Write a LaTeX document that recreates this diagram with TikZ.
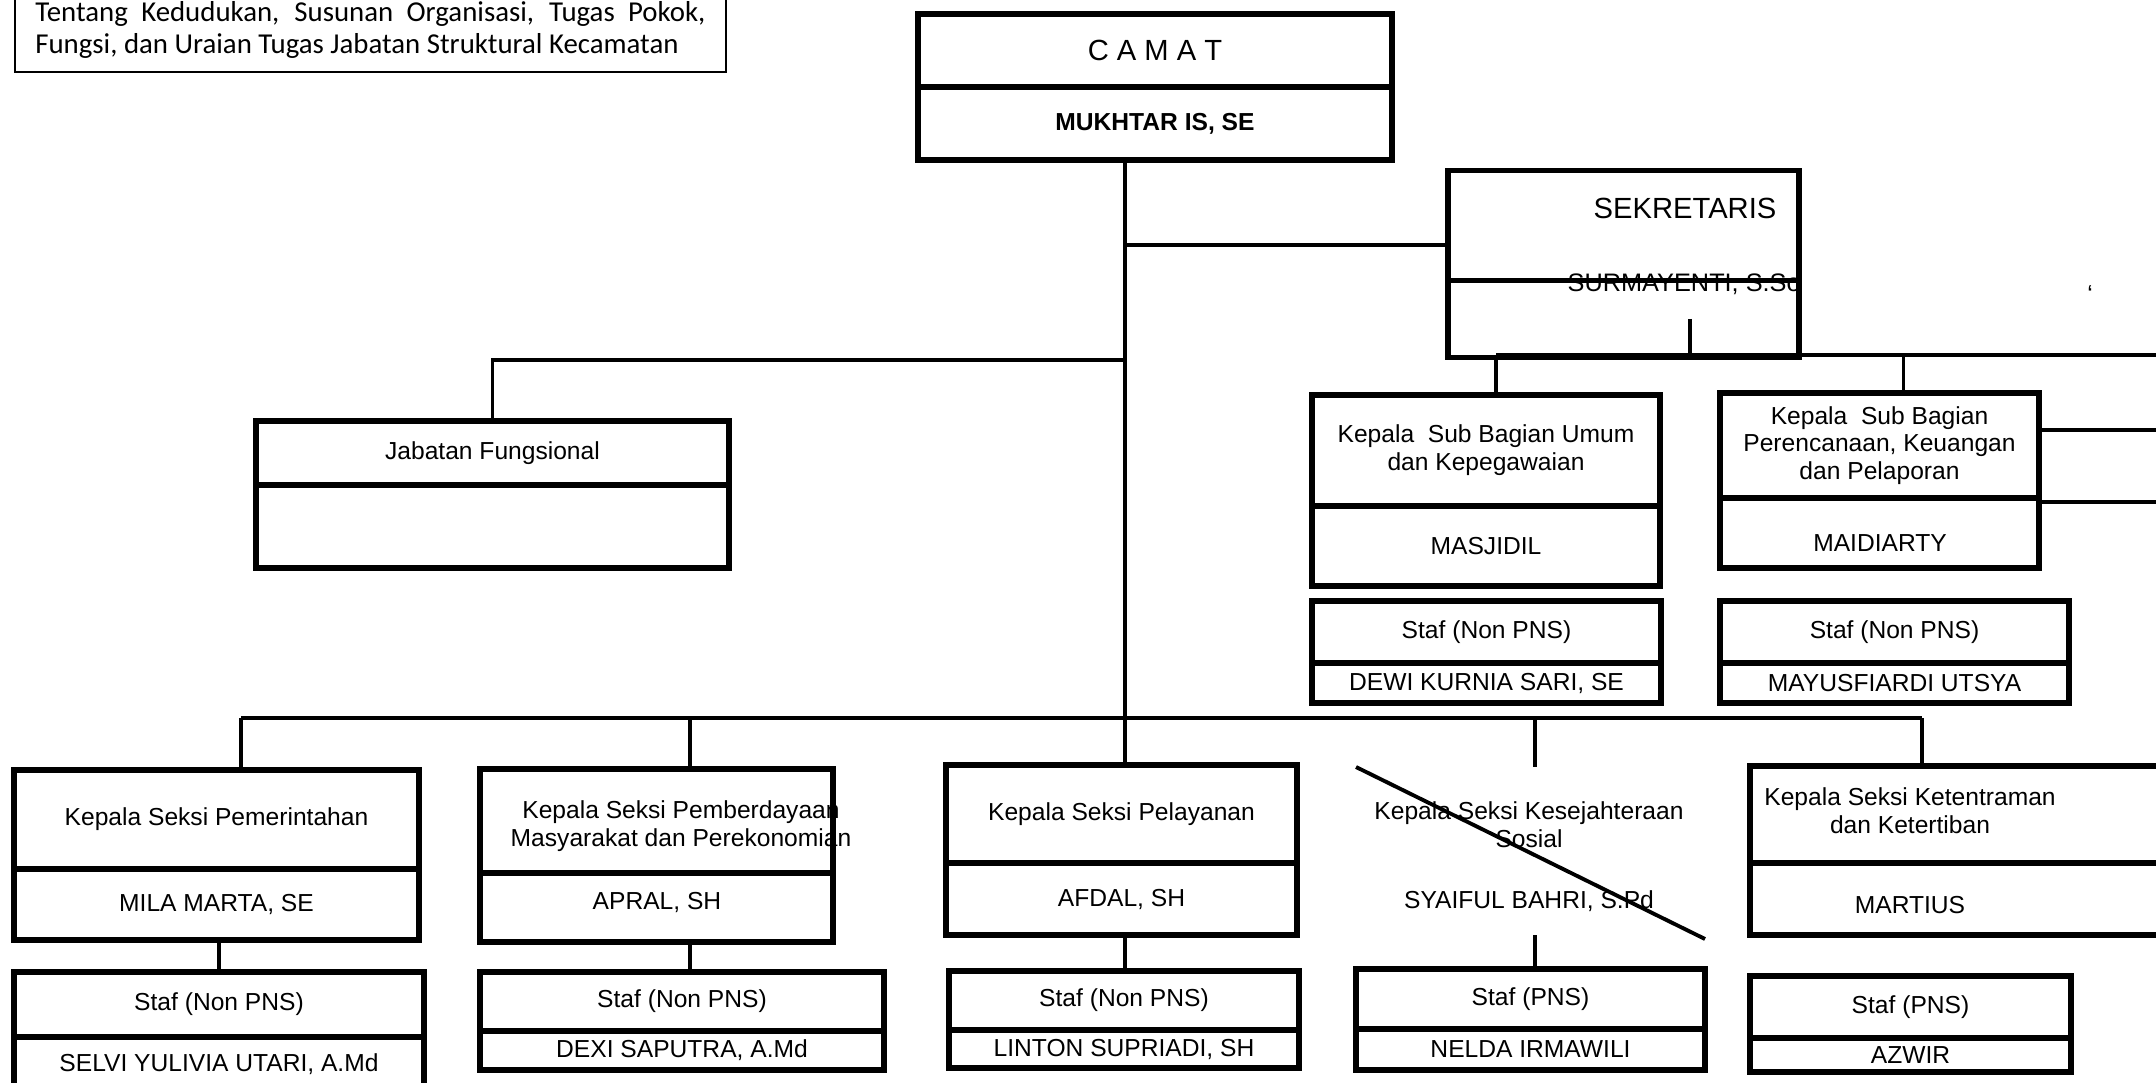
\documentclass[tikz,border=0pt]{standalone}
\usepackage{fontspec}
\setmainfont{Liberation Sans}
\newfontfamily\kecfont{Carlito}
\usetikzlibrary{positioning}

\begin{document}
\begin{tikzpicture}[font=\fontsize{7}{7.9}\selectfont,
	kotak/.style={draw, line width=1.5pt, inner sep=0pt, outer sep=0pt, align=center, anchor=north west},
	tulis/.style={align=center, inner sep=0pt},
	garis/.style={line width=1pt},
	besar/.style={font=\fontsize{8.3}{10}\selectfont}]
		\useasboundingbox (0,0) rectangle (21.56,-10.83);

		\node[draw, line width=0.5pt, anchor=south west, minimum width=7.11cm, text width=6.7cm, align=justify, inner xsep=0.2cm, inner ysep=0.14cm, font=\kecfont\fontsize{8.2}{9.1}\selectfont] (ket) at (0.14,-0.73) {Tentang Kedudukan, Susunan Organisasi, Tugas Pokok,\linebreak Fungsi, dan Uraian Tugas Jabatan Struktural Kecamatan};

		\node[kotak, besar, minimum width=4.74cm, minimum height=0.73cm] (camat) at (9.18,-0.14) {C A M A T};
		\node[kotak, minimum width=4.74cm, minimum height=0.73cm, below=0pt of camat] (camatN) {\textbf{MUKHTAR IS, SE}};

		\node[kotak, minimum width=3.51cm, minimum height=1.10cm] (sek) at (14.48,-1.705) {};
		\node[kotak, minimum width=3.51cm, minimum height=0.77cm, below=0pt of sek] (sekN) {};
		\node[tulis, besar] (sekT) at (16.85,-2.08) {SEKRETARIS};
		\begin{scope}
			\clip (sek.north west) rectangle (sekN.south east);
			\node[tulis, font=\fontsize{7.2}{8}\selectfont, anchor=west] (sekNama) at (15.67,-2.84) {SURMAYENTI, S.Sos};
		\end{scope}

		\node[kotak, minimum width=4.73cm, minimum height=0.64cm] (jab) at (2.56,-4.21) {Jabatan Fungsional};
		\node[kotak, minimum width=4.73cm, minimum height=0.83cm, below=0pt of jab] (jabN) {};

		\node[kotak, minimum width=3.48cm, minimum height=1.11cm] (umum) at (13.12,-3.95) {Kepala\ \ Sub Bagian Umum\\dan Kepegawaian};
		\node[kotak, minimum width=3.48cm, minimum height=0.80cm, below=0pt of umum] (umumN) {MASJIDIL};
		\node[kotak, minimum width=3.19cm, minimum height=1.05cm] (renc) at (17.20,-3.93) {Kepala\ \ Sub Bagian\\Perencanaan, Keuangan\\dan Pelaporan};
		\node[kotak, minimum width=3.19cm, minimum height=0.70cm, below=0pt of renc] (rencN) {};
		\node[tulis] (rencNama) at (18.80,-5.43) {MAIDIARTY};

		\node[kotak, minimum width=3.49cm, minimum height=0.62cm] (stUmum) at (13.12,-6.01) {Staf (Non PNS)};
		\node[kotak, minimum width=3.49cm, minimum height=0.40cm, below=0pt of stUmum] (stUmumN) {DEWI KURNIA SARI, SE};
		\node[kotak, minimum width=3.49cm, minimum height=0.62cm] (stRenc) at (17.20,-6.01) {Staf (Non PNS)};
		\node[kotak, minimum width=3.49cm, minimum height=0.40cm, below=0pt of stRenc] (stRencN) {MAYUSFIARDI UTSYA};

		\node[kotak, minimum width=4.05cm, minimum height=0.99cm] (ks1) at (0.14,-7.70) {Kepala Seksi Pemerintahan};
		\node[kotak, minimum width=4.05cm, minimum height=0.71cm, below=0pt of ks1] (ks1N) {MILA MARTA, SE};
		\node[kotak, minimum width=4.10cm, minimum height=0.65cm] (st1) at (0.14,-9.72) {Staf (Non PNS)};
		\node[kotak, minimum width=4.10cm, minimum height=0.55cm, below=0pt of st1] (st1N) {SELVI YULIVIA UTARI, A.Md};

		\node[kotak, minimum width=3.53cm, minimum height=1.04cm] (ks2) at (4.80,-7.69) {};
		\node[kotak, minimum width=3.53cm, minimum height=0.69cm, below=0pt of ks2] (ks2N) {};
		\node[tulis] (ks2T) at (6.81,-8.26) {Kepala Seksi Pemberdayaan\\Masyarakat dan Perekonomian};
		\node[tulis] (ks2Nama) at (6.57,-9.02) {APRAL, SH};
		\node[kotak, minimum width=4.04cm, minimum height=0.59cm] (st2) at (4.80,-9.72) {Staf (Non PNS)};
		\node[kotak, minimum width=4.04cm, minimum height=0.39cm, below=0pt of st2] (st2N) {DEXI SAPUTRA, A.Md};

		\node[kotak, minimum width=3.51cm, minimum height=0.98cm] (ks3) at (9.46,-7.65) {Kepala Seksi Pelayanan};
		\node[kotak, minimum width=3.51cm, minimum height=0.72cm, below=0pt of ks3] (ks3N) {AFDAL, SH};
		\node[kotak, minimum width=3.50cm, minimum height=0.59cm] (st3) at (9.49,-9.71) {Staf (Non PNS)};
		\node[kotak, minimum width=3.50cm, minimum height=0.38cm, below=0pt of st3] (st3N) {LINTON SUPRIADI, SH};

		\node[tulis] (ks4T) at (15.29,-8.25) {Kepala Seksi Kesejahteraan\\Sosial};
		\node[tulis] (ks4N) at (15.29,-9.01) {SYAIFUL BAHRI, S.Pd};
		\node[kotak, minimum width=3.49cm, minimum height=0.60cm] (st4) at (13.56,-9.69) {Staf (PNS)};
		\node[kotak, minimum width=3.49cm, minimum height=0.41cm, below=0pt of st4] (st4N) {NELDA IRMAWILI};

		\node[kotak, minimum width=5.0cm, minimum height=0.97cm] (ks5) at (17.50,-7.66) {};
		\node[kotak, minimum width=5.0cm, minimum height=0.72cm, below=0pt of ks5] (ks5N) {};
		\node[tulis] (ks5T) at (19.10,-8.11) {Kepala Seksi Ketentraman\\dan Ketertiban};
		\node[tulis] (ks5Nama) at (19.10,-9.05) {MARTIUS};
		\node[kotak, minimum width=3.21cm, minimum height=0.62cm] (st5) at (17.50,-9.76) {Staf (PNS)};
		\node[kotak, minimum width=3.21cm, minimum height=0.34cm, below=0pt of st5] (st5N) {AZWIR};

		\node[tulis] (tanda) at (20.90,-2.94) {‘};

		\coordinate (pusat) at (11.25,-7.18);
		\coordinate (cs) at (11.25,-2.45);
		\coordinate (cj) at (11.25,-3.60);
		\coordinate (sbAtas) at (16.90,-3.19);
		\coordinate (sb) at (16.90,-3.55);
		\coordinate (sbUjung) at (21.70,-3.55);
		\coordinate (uc) at ([xshift=0.1cm]umum.north);
		\coordinate (rc) at ([xshift=0.24cm]renc.north);
		\coordinate (ka1) at (21.70,-4.30);
		\coordinate (ka2) at (21.70,-5.02);
		\coordinate (b1) at (2.41,-7.18);
		\coordinate (b2) at (6.90,-7.18);
		\coordinate (b4) at (15.35,-7.18);
		\coordinate (b5) at (19.22,-7.18);
		\coordinate (k4a) at (15.35,-7.67);
		\coordinate (k4b) at (15.35,-9.35);
		\coordinate (cr1) at (13.56,-7.67);
		\coordinate (cr2) at (17.05,-9.39);

		\draw[garis] (camatN.south -| pusat) -- (pusat);
		\draw[garis] (cs) -- (cs -| sek.west);
		\draw[garis] (cj) -- (cj -| jab.north) -- (jab.north);
		\draw[garis] (sbAtas) -- (sb);
		\draw[line width=1.2pt] (uc |- sb) -- (sbUjung);
		\draw[garis] (uc |- sb) -- (uc);
		\draw[garis] (rc |- sb) -- (rc);
		\draw[line width=1.3pt] (ka1 -| renc.east) -- (ka1);
		\draw[line width=1.3pt] (ka2 -| rencN.east) -- (ka2);

		\draw[line width=1.2pt] (b1) -- (b5);
		\draw[garis] (b1) -- (b1 |- ks1.north);
		\draw[garis] (b2) -- (b2 |- ks2.north);
		\draw[garis] (pusat) -- (pusat |- ks3.north);
		\draw[garis] (b4) -- (k4a);
		\draw[garis] (b5) -- (b5 |- ks5.north);

		\draw[garis] (st1.north) -- (st1.north |- ks1N.south);
		\draw[garis] (b2 |- ks2N.south) -- (b2 |- st2.north);
		\draw[garis] (pusat |- ks3N.south) -- (pusat |- st3.north);
		\draw[garis] (k4b) -- (k4b |- st4.north);

		\draw[line width=1.1pt] (cr1) -- (cr2);
	\end{tikzpicture}
\end{document}
